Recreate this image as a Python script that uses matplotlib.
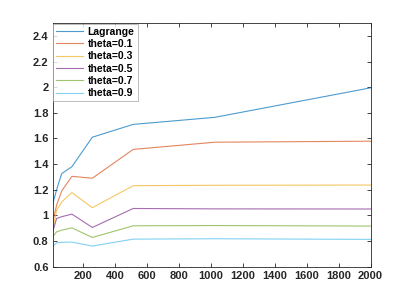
import matplotlib
matplotlib.use("Agg")
import matplotlib.pyplot as plt
import numpy as np
from matplotlib.ticker import FuncFormatter, MultipleLocator

# data
x = [8, 32, 64, 128, 256, 512, 1024, 2000]
lagrange = [1.09, 1.20, 1.326, 1.38, 1.61, 1.71, 1.765, 1.995]
theta_01 = [0.95, 1.08, 1.19, 1.305, 1.29, 1.515, 1.571, 1.579]
theta_03 = [0.885, 1.04, 1.105, 1.178, 1.06, 1.232, 1.235, 1.237]
theta_05 = [0.872, 0.976, 0.99, 1.01, 0.906, 1.054, 1.051, 1.05]
theta_07 = [0.833, 0.872, 0.885, 0.903, 0.828, 0.919, 0.921, 0.917]
theta_09 = [0.76, 0.786, 0.79, 0.792, 0.761, 0.815, 0.818, 0.813]

series = [lagrange, theta_01, theta_03, theta_05, theta_07, theta_09]
labels = ["Lagrange", "theta=0.1", "theta=0.3", "theta=0.5", "theta=0.7", "theta=0.9"]
colors = ["#0072BD", "#D95319", "#EDB120", "#7E2F8E", "#77AC30", "#4DBEEE"]

plt.rcParams["font.family"] = ["Liberation Sans", "DejaVu Sans"]

fig = plt.figure(figsize=(4.09, 3.0), dpi=100)
ax = fig.add_axes([0.129, 0.111, 0.777, 0.812])

for ys, lab, c in zip(series, labels, colors):
    ax.plot(x, ys, color=c, lw=0.8, alpha=0.7, label=lab)

ax.set_xlim(8, 2000)
ax.set_ylim(0.6, 2.5)
ax.set_xticks(np.arange(200, 2001, 200))
ax.yaxis.set_major_locator(MultipleLocator(0.2))
ax.yaxis.set_major_formatter(FuncFormatter(lambda v, p: "%g" % round(v, 2)))

axcol = "#262626"
for s in ax.spines.values():
    s.set_color(axcol)
    s.set_linewidth(0.6)
ax.tick_params(direction="in", top=True, right=True, length=3, width=0.6,
               colors=axcol, labelsize=8, pad=3)
for t in ax.get_xticklabels() + ax.get_yticklabels():
    t.set_fontweight("bold")

leg = ax.legend(loc="upper left", frameon=True, fancybox=False,
                borderaxespad=0.05, handlelength=2.6, handletextpad=0.4,
                labelspacing=0.22, borderpad=0.3, prop={"weight": "bold", "size": 7.5})
leg.get_frame().set_edgecolor("#a0a0a0")
leg.get_frame().set_linewidth(0.6)

fig.savefig("out.png", dpi=100)
